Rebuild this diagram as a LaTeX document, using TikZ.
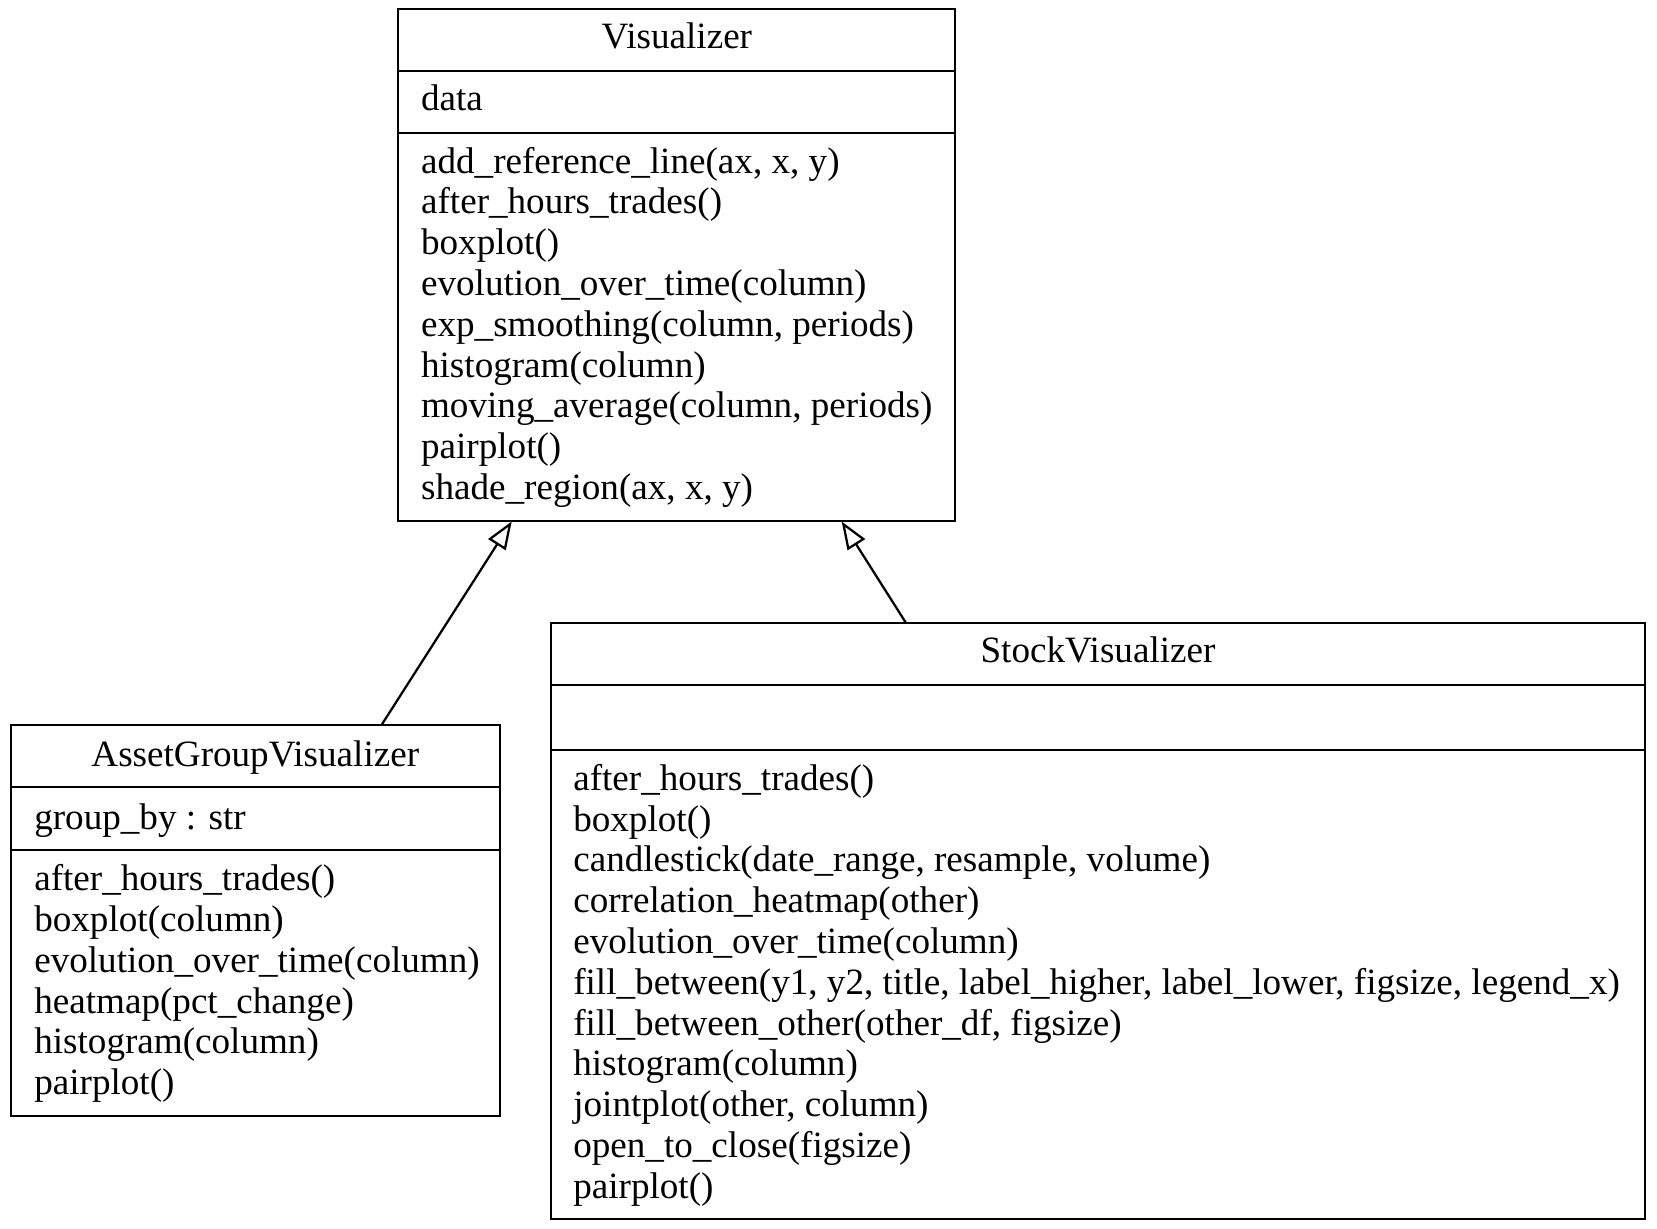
\documentclass[tikz,border=0pt]{standalone}
\usepackage{fontspec}
\setmainfont{Liberation Serif}
\usetikzlibrary{arrows.meta,fit}
\begin{document}
\begin{tikzpicture}[x=0.4pt,y=-0.4pt,
  box/.style={draw, line width=0.8pt, inner sep=0pt},
  sep/.style={line width=0.8pt},
  txt/.style={anchor=base west, inner sep=0pt, font=\fontsize{14.85}{16.3}\selectfont},
  ttl/.style={anchor=base, inner sep=0pt, font=\fontsize{14.85}{16.3}\selectfont},
  inh/.style={line width=0.9pt, -{Triangle[open, length=11pt, width=8.2pt]}}]
\path[fill=white,use as bounding box] (0,0) rectangle (1657,1228);

% Visualizer
\node[box, fit={(398.4,8.5) (955.3,521)}] (vis) {};
\draw[sep] (398.4,70.8) -- (955.3,70.8);
\draw[sep] (398.4,133.2) -- (955.3,133.2);
\node[ttl] (visT) at (676.9,48.4) {Visualizer};
\node[txt] (visA) at (420.6,110.7) {data};
\node[txt] (visM1) at (420.6,173.1) {add\_reference\_line(ax, x, y)};
\node[txt] (visM2) at (420.6,213.9) {after\_hours\_trades()};
\node[txt] (visM3) at (420.6,254.7) {boxplot()};
\node[txt] (visM4) at (420.6,295.5) {evolution\_over\_time(column)};
\node[txt] (visM5) at (420.6,336.3) {exp\_smoothing(column, periods)};
\node[txt] (visM6) at (420.6,377.1) {histogram(column)};
\node[txt] (visM7) at (420.6,417.9) {moving\_average(column, periods)};
\node[txt] (visM8) at (420.6,458.7) {pairplot()};
\node[txt] (visM9) at (420.6,499.5) {shade\_region(ax, x, y)};

% AssetGroupVisualizer
\node[box, fit={(10.6,725) (499.9,1116)}] (agv) {};
\draw[sep] (10.6,787.3) -- (499.9,787.3);
\draw[sep] (10.6,849.7) -- (499.9,849.7);
\node[ttl] (agvT) at (255.3,766) {AssetGroupVisualizer};
\node[txt] (agvA) at (33.8,829.4) {group\_by : str};
\node[txt] (agvM1) at (33.8,890.7) {after\_hours\_trades()};
\node[txt] (agvM2) at (33.8,931.5) {boxplot(column)};
\node[txt] (agvM3) at (33.8,972.3) {evolution\_over\_time(column)};
\node[txt] (agvM4) at (33.8,1013.1) {heatmap(pct\_change)};
\node[txt] (agvM5) at (33.8,1053.9) {histogram(column)};
\node[txt] (agvM6) at (33.8,1094.7) {pairplot()};

% StockVisualizer
\node[box, fit={(550.6,622.5) (1645.4,1218.5)}] (sv) {};
\draw[sep] (550.6,684.8) -- (1645.4,684.8);
\draw[sep] (550.6,750.3) -- (1645.4,750.3);
\node[ttl] (svT) at (1098,662.4) {StockVisualizer};
\node[txt] (svM1) at (572.8,790.3) {after\_hours\_trades()};
\node[txt] (svM2) at (572.8,831.1) {boxplot()};
\node[txt] (svM3) at (572.8,871.9) {candlestick(date\_range, resample, volume)};
\node[txt] (svM4) at (572.8,912.7) {correlation\_heatmap(other)};
\node[txt] (svM5) at (572.8,953.5) {evolution\_over\_time(column)};
\node[txt] (svM6) at (572.8,994.3) {fill\_between(y1, y2, title, label\_higher, label\_lower, figsize, legend\_x)};
\node[txt] (svM7) at (572.8,1035.1) {fill\_between\_other(other\_df, figsize)};
\node[txt] (svM8) at (572.8,1075.9) {histogram(column)};
\node[txt] (svM9) at (572.8,1116.7) {jointplot(other, column)};
\node[txt] (svM10) at (572.8,1157.5) {open\_to\_close(figsize)};
\node[txt] (svM11) at (572.8,1198.3) {pairplot()};

% inheritance
\coordinate (agvTop) at (381.5,725);
\coordinate (visL) at (511.7,521.5);
\coordinate (svTop) at (905.7,622.5);
\coordinate (visR) at (841.7,521.5);
\draw[inh] (agvTop) -- (visL);
\draw[inh] (svTop) -- (visR);
\end{tikzpicture}
\end{document}
